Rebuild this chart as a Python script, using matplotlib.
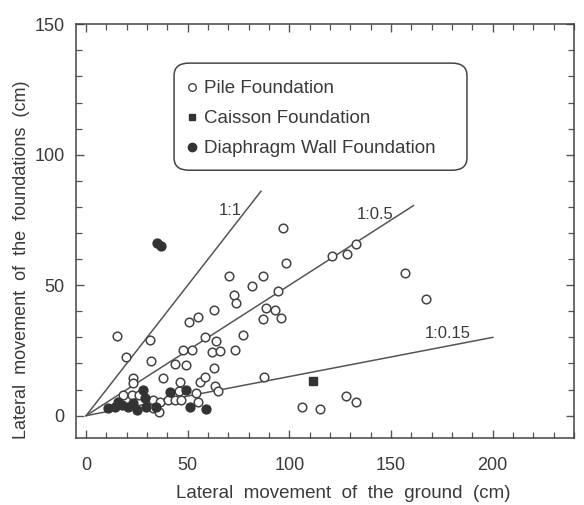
import matplotlib
matplotlib.use("Agg")
import matplotlib.pyplot as plt
from matplotlib.patches import FancyBboxPatch
from matplotlib.ticker import MultipleLocator
from matplotlib.lines import Line2D

plt.rcParams['font.family'] = ['Liberation Sans', 'DejaVu Sans']

# Pile foundations (open circles)
pile_x = [15.0, 19.4, 31.4, 32.0, 23.2, 23.2, 37.9, 43.9, 49.0, 47.5, 52.0, 50.5,
          55.2, 62.7, 58.7, 63.7, 61.8, 66.0, 73.0, 77.1, 62.8, 46.1, 55.9, 58.3,
          63.2, 64.9, 70.2, 72.6, 73.5, 81.6, 86.8, 94.3, 98.4, 88.6, 92.8, 87.1,
          95.9, 87.7, 96.7, 120.9, 128.1, 132.7, 156.9, 167.0, 127.8, 132.7, 115.0,
          106.2, 18.3, 22.4, 26.1, 33.0, 36.3, 40.3, 43.6, 46.9, 45.5, 54.2, 55.0,
          33.0, 36.0]
pile_y = [30.5, 22.3, 29.0, 20.8, 14.6, 12.4, 14.6, 19.7, 19.4, 25.0, 25.2, 35.8,
          37.9, 40.5, 30.3, 28.8, 24.5, 24.6, 25.0, 30.8, 18.2, 12.9, 13.0, 14.9,
          11.4, 9.6, 53.5, 46.2, 43.0, 49.7, 53.5, 47.6, 58.4, 41.4, 40.6, 37.0,
          37.4, 14.9, 71.8, 61.2, 61.8, 65.7, 54.6, 44.6, 7.5, 5.4, 2.5,
          3.2, 7.9, 7.9, 7.9, 6.0, 5.4, 6.0, 6.0, 6.0, 9.5, 8.6, 5.4,
          2.8, 1.5]

# Caisson foundation (filled square)
caisson_x = [111.8]
caisson_y = [13.3]

# Diaphragm wall foundations (filled circles)
wall_x = [10.9, 14.2, 15.8, 17.5, 20.7, 23.2, 24.8, 28.1, 28.9, 29.7, 34.6, 41.2,
          49.3, 51.0, 59.2, 34.8, 36.8]
wall_y = [2.8, 3.4, 5.4, 4.1, 3.4, 4.8, 2.2, 9.8, 6.7, 3.4, 3.4, 9.2,
          9.8, 3.4, 2.4, 66.1, 65.0]

# Reference ratio lines: foundation / ground movement
ratio_labels = ['1:1', '1:0.5', '1:0.15']
ratio_slopes = [1.0, 0.5, 0.15]
ratio_x_end = [86, 161, 200]

ink = '#3a3a3a'

fig = plt.figure(figsize=(5.84, 5.05), dpi=100)
ax = fig.add_axes([0.130, 0.133, 0.853, 0.819])

for slope, xe in zip(ratio_slopes, ratio_x_end):
    ax.plot([0, xe], [0, slope * xe], color='#555555', lw=1.1, zorder=1)

label_pos = [(71, 78.7), (142, 77.2), (178, 31.3)]
for lab, (tx, ty) in zip(ratio_labels, label_pos):
    ax.text(tx, ty, lab, ha='center', va='center', fontsize=12, color=ink)

ax.plot(pile_x, pile_y, 'o', ms=6.2, mfc='white', mec='#444444', mew=1.1,
        ls='none', zorder=3)
ax.plot(wall_x, wall_y, 'o', ms=6.4, mfc='#333333', mec='#333333', mew=1.0,
        ls='none', zorder=4)
ax.plot(caisson_x, caisson_y, 's', ms=5.2, mfc='#333333', mec='#333333',
        ls='none', zorder=4)

ax.set_xlim(-5, 240)
ax.set_ylim(-8.5, 150)

ax.xaxis.set_major_locator(MultipleLocator(50))
ax.xaxis.set_minor_locator(MultipleLocator(10))
ax.yaxis.set_major_locator(MultipleLocator(50))
ax.yaxis.set_minor_locator(MultipleLocator(10))
ax.set_xticks([0, 50, 100, 150, 200])
ax.set_yticks([0, 50, 100, 150])
ax.tick_params(which='both', direction='in', top=True, right=True, color='#555555',
               labelsize=13, labelcolor=ink)
ax.tick_params(which='major', length=6, width=1.0)
ax.tick_params(which='minor', length=4, width=0.9)
ax.tick_params(axis='x', which='major', pad=14)
ax.tick_params(axis='y', which='major', pad=8)

for sp in ax.spines.values():
    sp.set_color('#444444')
    sp.set_linewidth(1.1)

ax.set_xlabel('Lateral  movement  of  the  ground  (cm)', fontsize=13.5, color=ink)
ax.set_ylabel('Lateral  movement  of  the  foundations  (cm)', fontsize=13, color=ink)
ax.xaxis.set_label_coords(0.536, -0.113)
ax.yaxis.set_label_coords(-0.093, 0.43)

# Rounded legend frame
box = FancyBboxPatch((0.197, 0.647), 0.588, 0.259,
                     boxstyle='round,pad=0.0,rounding_size=0.03',
                     transform=ax.transAxes, fc='white', ec='#444444', lw=1.1,
                     zorder=5)
ax.add_patch(box)

handles = [
    Line2D([], [], marker='o', ls='none', ms=5.5, mfc='white', mec='#444444', mew=1.0),
    Line2D([], [], marker='s', ls='none', ms=5.0, mfc='#333333', mec='#333333'),
    Line2D([], [], marker='o', ls='none', ms=6.0, mfc='#333333', mec='#333333'),
]
names = ['Pile Foundation', 'Caisson Foundation', 'Diaphragm Wall Foundation']
leg = ax.legend(handles, names, loc='upper left', bbox_to_anchor=(0.221, 0.865),
                frameon=False, fontsize=13.5, handlelength=0.6, handletextpad=0.35,
                labelspacing=0.69, borderaxespad=0, borderpad=0)
leg.set_zorder(6)
for t in leg.get_texts():
    t.set_color(ink)

fig.savefig('out.png', dpi=100, facecolor='white')
